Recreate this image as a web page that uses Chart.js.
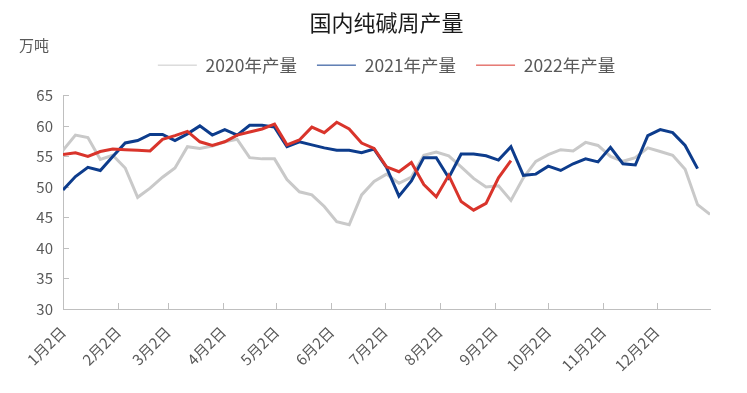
<!DOCTYPE html>
<html>
<head>
<meta charset="utf-8">
<script src="https://cdn.jsdelivr.net/npm/chart.js@4.4.0/dist/chart.umd.min.js"></script>
<style>
  html, body { margin: 0; padding: 0; background: #fff; }
  #wrap { width: 747px; height: 393px; position: relative; }
</style>
</head>
<body>
<div id="wrap"><canvas id="soda_weekly_output"></canvas></div>
<script>
// weekly soda ash output (10k t), one value per week starting 1月2日
const seriesNames = ['2020年产量', '2021年产量', '2022年产量'];

const output2020 = [
  56.0, 58.5, 58.1, 54.5, 55.2, 53.1, 48.3, 49.8, 51.6, 53.1,
  56.6, 56.3, 56.7, 57.4, 57.8, 54.8, 54.6, 54.6, 51.2, 49.2,
  48.7, 46.8, 44.3, 43.8, 48.7, 50.9, 52.1, 50.6, 51.6, 55.2,
  55.7, 55.1, 53.3, 51.4, 50.0, 50.2, 47.8, 51.5, 54.2, 55.3,
  56.1, 55.9, 57.3, 56.8, 55.0, 54.2, 54.8, 56.4, 55.8, 55.2,
  52.9, 47.1, 45.5
];
const output2021 = [
  49.5, 51.7, 53.2, 52.7, 55.0, 57.2, 57.6, 58.6, 58.6, 57.6,
  58.7, 60.0, 58.5, 59.4, 58.5, 60.1, 60.1, 59.8, 56.6, 57.4,
  56.9, 56.4, 56.0, 56.0, 55.6, 56.2, 53.2, 48.5, 51.0, 54.8,
  54.8, 51.5, 55.4, 55.4, 55.1, 54.4, 56.6, 51.9, 52.1, 53.4,
  52.7, 53.8, 54.6, 54.1, 56.5, 53.8, 53.6, 58.4, 59.4, 58.9,
  56.8, 53.0
];
const output2022 = [
  55.3, 55.6, 55.0, 55.8, 56.2, 56.1, 56.0, 55.9, 57.8, 58.4,
  59.1, 57.4, 56.8, 57.4, 58.5, 59.0, 59.5, 60.3, 56.9, 57.7,
  59.8, 58.9, 60.6, 59.5, 57.2, 56.3, 53.3, 52.5, 54.0, 50.4,
  48.4, 51.9, 47.6, 46.2, 47.3, 51.5, 54.3
];

const tickLabels = ['1月2日', '2月2日', '3月2日', '4月2日', '5月2日', '6月2日',
                    '7月2日', '8月2日', '9月2日', '10月2日', '11月2日', '12月2日'];

const lineColors = ['#c9c9c9', '#0d3c8c', '#d9342b'];

// x axis runs in days from 1月2日 to the next 1月1日
const DAY_MS = 24 * 3600 * 1000;
const axisStart = Date.UTC(2021, 0, 2);
const dayOf = (month, day) => (Date.UTC(2021, month, day) - axisStart) / DAY_MS;
const tickDays = tickLabels.map((_, m) => dayOf(m, 2));
const axisEnd = dayOf(12, 1);

function weekly(values) {
    return values.map((v, i) => ({ x: i * 7, y: v }));
}

Chart.defaults.font.family = '"Noto Sans CJK SC", "Noto Sans", sans-serif';

const axisMarks = {
    id: 'axisMarks',
    beforeDatasetsDraw(chart) {
        const { ctx, chartArea: a, scales: { x, y } } = chart;
        ctx.save();
        ctx.strokeStyle = '#bfbfbf';
        ctx.lineWidth = 1;
        ctx.beginPath();
        x.ticks.forEach(t => {
            const px = Math.round(x.getPixelForValue(t.value)) + 0.5;
            ctx.moveTo(px, a.bottom);
            ctx.lineTo(px, a.bottom - 6);
        });
        y.ticks.forEach(t => {
            const py = Math.round(y.getPixelForValue(t.value)) + 0.5;
            ctx.moveTo(a.left, py);
            ctx.lineTo(a.left + 6, py);
        });
        ctx.stroke();
        ctx.restore();
    },
    afterDraw(chart) {
        const ctx = chart.ctx;
        ctx.save();
        ctx.font = '15px "Noto Sans CJK SC"';
        ctx.fillStyle = '#595959';
        ctx.textAlign = 'left';
        ctx.textBaseline = 'middle';
        ctx.fillText('万吨', chart.chartArea.left - 44, chart.legend.top + 9);
        ctx.restore();
    }
};

const ctx = document.getElementById('soda_weekly_output').getContext('2d');

const sodaChart = new Chart(ctx, {
    type: 'line',
    data: {
        datasets: [{
            label: seriesNames[0],
            data: weekly(output2020),
            borderColor: lineColors[0],
            backgroundColor: lineColors[0],
            order: 2
        }, {
            label: seriesNames[1],
            data: weekly(output2021),
            borderColor: lineColors[1],
            backgroundColor: lineColors[1],
            order: 1
        }, {
            label: seriesNames[2],
            data: weekly(output2022),
            borderColor: lineColors[2],
            backgroundColor: lineColors[2],
            order: 0
        }]
    },
    options: {
        responsive: true,
        maintainAspectRatio: false,
        animation: false,
        layout: { padding: { top: 4, left: 0, right: 37, bottom: 0 } },
        elements: {
            point: { radius: 0, hoverRadius: 0 },
            line: { borderWidth: 3, tension: 0 }
        },
        scales: {
            x: {
                type: 'linear',
                min: 0,
                max: axisEnd,
                afterBuildTicks: s => { s.ticks = tickDays.map(v => ({ value: v })); },
                afterFit: s => { s.height = 84; },
                grid: { display: false, drawTicks: false },
                border: { display: true, color: '#bfbfbf', width: 1 },
                ticks: {
                    autoSkip: false,
                    minRotation: 45,
                    maxRotation: 45,
                    padding: 14,
                    color: '#595959',
                    font: { size: 15 },
                    callback: (v, i) => tickLabels[i]
                }
            },
            y: {
                min: 30,
                max: 65,
                afterFit: s => { s.width = 63; },
                grid: { display: false, drawTicks: false },
                border: { display: true, color: '#bfbfbf', width: 1 },
                ticks: {
                    stepSize: 5,
                    padding: 10,
                    color: '#595959',
                    font: { size: 15 }
                }
            },
            // empty top axis, only keeps room between legend and plot
            gap: {
                type: 'linear',
                axis: 'x',
                position: 'top',
                grid: { display: false },
                border: { display: false },
                ticks: { display: false },
                afterFit: s => { s.height = 11.5; }
            }
        },
        plugins: {
            title: {
                display: true,
                text: '国内纯碱周产量',
                fullSize: false,
                color: '#1a1a1a',
                font: { size: 22, weight: 'normal' },
                padding: { top: 5, bottom: 1 }
            },
            legend: {
                fullSize: false,
                labels: {
                    usePointStyle: true,
                    pointStyle: 'line',
                    pointStyleWidth: 39,
                    padding: 20,
                    color: '#595959',
                    font: { size: 17.5 },
                    sort: (a, b) => a.datasetIndex - b.datasetIndex
                }
            },
            tooltip: { enabled: false }
        }
    },
    plugins: [axisMarks]
});
</script>
</body>
</html>
